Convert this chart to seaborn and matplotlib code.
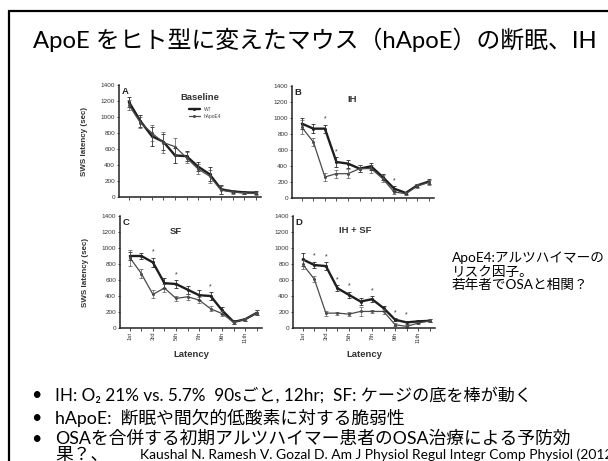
import numpy as np
import pandas as pd
import matplotlib
matplotlib.use("Agg")
import matplotlib.pyplot as plt
from matplotlib.lines import Line2D
import seaborn as sns

# ---------------- data ----------------
trials = list(range(1, 13))
trial_labels = ["1st", "2nd", "3rd", "4th", "5th", "6th", "7th", "8th", "9th", "10th", "11th", "12th"]

a_wt = [1190, 950, 760, 690, 520, 510, 380, 285, 96, 70, 58, 55]
a_ha = [1150, 930, 800, 680, 630, 490, 350, 260, 85, 62, 50, 45]
a_wt_err = [60, 80, 120, 100, 90, 60, 60, 90, 60, 20, 15, 15]
a_ha_err = [60, 70, 100, 130, 110, 70, 60, 80, 50, 20, 15, 15]

b_wt = [930, 867, 867, 450, 430, 367, 396, 263, 117, 63, 158, 205]
b_ha = [885, 700, 263, 304, 304, 367, 367, 242, 75, 54, 150, 195]
b_wt_err = [70, 60, 50, 60, 50, 40, 40, 40, 30, 15, 20, 30]
b_ha_err = [90, 50, 50, 50, 60, 40, 50, 40, 20, 15, 20, 30]

c_wt = [900, 900, 820, 560, 550, 480, 410, 400, 220, 75, 110, 190]
c_ha = [880, 680, 420, 500, 370, 390, 350, 240, 180, 70, 110, 190]
c_wt_err = [50, 40, 60, 60, 50, 50, 60, 50, 40, 20, 20, 30]
c_ha_err = [100, 60, 50, 50, 30, 40, 40, 30, 30, 20, 20, 30]

d_wt = [857, 787, 774, 497, 414, 331, 360, 248, 103, 70, 83, 90]
d_ha = [795, 609, 186, 186, 174, 207, 207, 207, 41, 20, 62, 90]
d_wt_err = [80, 40, 50, 40, 40, 40, 40, 30, 20, 20, 20, 20]
d_ha_err = [60, 40, 30, 20, 20, 60, 20, 30, 20, 15, 15, 20]

sig_b = [2, 3, 8]
sig_c = [2, 4, 7]
sig_d = [1, 2, 3, 4, 6, 8, 9]
sig_a = []

series_names = ["WT", "hApoE4"]
panel_letters = ["A", "B", "C", "D"]
panel_titles = ["Baseline", "IH", "SF", "IH + SF"]
y_ticks = [0, 200, 400, 600, 800, 1000, 1200, 1400]

title_text = "ApoE をヒト型に変えたマウス（hApoE）の断眠、IH"
bullets = [
    "IH: O₂ 21% vs. 5.7%  90sごと, 12hr;  SF: ケージの底を棒が動く",
    "hApoE:  断眠や間欠的低酸素に対する脆弱性",
    "OSAを合併する初期アルツハイマー患者のOSA治療による予防効",
]
bullet_cont = "果？、"
citation = "Kaushal N. Ramesh V. Gozal D. Am J Physiol Regul Integr Comp Physiol (2012"
side_note = ["ApoE4:アルツハイマーの", "リスク因子。", "若年者でOSAと相関？"]

# ---------------- style ----------------
sns.set_theme(style="ticks")
plt.rcParams['font.family'] = ['Noto Sans CJK JP', 'DejaVu Sans']
slide_fam = ["Lato", "Noto Sans CJK JP", "DejaVu Sans"]

W, H = 608, 461
fig = plt.figure(figsize=(W / 100, H / 100), dpi=100)
fig.patch.set_facecolor("white")

def fx(px):
    return px / W

def fy(py):
    return 1 - py / H

# slide frame
fig.add_artist(Line2D([fx(9), fx(9)], [0, fy(11)], color="black", lw=1.6))
fig.add_artist(Line2D([fx(9), 1.0], [fy(11), fy(11)], color="black", lw=1.6))

# title
fig.text(fx(33), fy(40), title_text, fontsize=17.2, va="center", ha="left", color="black",
         family=slide_fam)

# panels
panels = [
    (a_wt, a_ha, a_wt_err, a_ha_err, sig_a),
    (b_wt, b_ha, b_wt_err, b_ha_err, sig_b),
    (c_wt, c_ha, c_wt_err, c_ha_err, sig_c),
    (d_wt, d_ha, d_wt_err, d_ha_err, sig_d),
]
positions = [(119, 85), (292, 86), (120, 216), (293, 216)]
title_pos = [(0.57, 0.89), (0.42, 0.88), (0.39, 0.86), (0.44, 0.87)]
aw, ah = 142, 112
fig_font = "Liberation Sans"

for i, (wt, ha, wte, hae, sig) in enumerate(panels):
    lx, ty = positions[i]
    ax = fig.add_axes([fx(lx), fy(ty + ah), aw / W, ah / H])
    ax.set_facecolor("white")
    df = pd.DataFrame({
        "trial": trials * 2,
        "latency": list(wt) + list(ha),
        "group": [series_names[0]] * 12 + [series_names[1]] * 12,
    })
    sns.lineplot(data=df, x="trial", y="latency", hue="group", size="group",
                 sizes={"WT": 1.7, "hApoE4": 0.9},
                 palette={"WT": "#1e1e1e", "hApoE4": "#4a4a4a"},
                 marker="o", markersize=2.2, markeredgewidth=0, ax=ax,
                 legend=(i == 0))
    ax.errorbar(trials, wt, yerr=wte, fmt="none", ecolor="#2a2a2a", elinewidth=0.6, capsize=1.2, capthick=0.6)
    ax.errorbar(trials, ha, yerr=hae, fmt="none", ecolor="#555555", elinewidth=0.5, capsize=1.2, capthick=0.5)
    for s in sig:
        ax.text(trials[s], wt[s] + wte[s] + 25, "*", ha="center", va="bottom",
                fontsize=5, color="#333333", family=fig_font)
    ax.set_xlim(0.15, 12.45)
    ax.set_ylim(0, 1400)
    ax.set_yticks(y_ticks)
    ax.set_yticklabels([str(v) for v in y_ticks], fontsize=4.6, color="#444444", family=fig_font)
    ax.set_xticks(trials)
    if i >= 2:
        ax.set_xticklabels([lab if k % 2 == 0 else "" for k, lab in enumerate(trial_labels)],
                           rotation=90, fontsize=4.2, color="#444444", family=fig_font)
        ax.set_xlabel("Latency", fontsize=6.8, fontweight="bold", color="#333333", family=fig_font)
        ax.xaxis.set_label_coords(0.5, -0.2)
    else:
        ax.set_xticklabels([])
        ax.set_xlabel("")
    if i % 2 == 0:
        ax.set_ylabel("SWS latency (sec)", fontsize=5.8, fontweight="bold", color="#333333", family=fig_font)
        ax.yaxis.set_label_coords(-0.22, 0.5)
    else:
        ax.set_ylabel("")
    ax.tick_params(axis="both", length=1.8, width=0.6, pad=1, colors="#333333")
    for sp in ["top", "right"]:
        ax.spines[sp].set_visible(False)
    for sp in ["left", "bottom"]:
        ax.spines[sp].set_linewidth(1.1)
        ax.spines[sp].set_color("#222222")
    ax.text(0.02, 0.98, panel_letters[i], transform=ax.transAxes, fontsize=6.8,
            fontweight="bold", va="top", ha="left", color="#222222", family=fig_font)
    tx, tyy = title_pos[i]
    ax.text(tx, tyy, panel_titles[i], transform=ax.transAxes, fontsize=6.8,
            fontweight="bold", va="center", ha="center", color="#333333", family=fig_font)
    if i == 0:
        leg = ax.legend(loc="upper left", bbox_to_anchor=(0.48, 0.82), frameon=False,
                        fontsize=3.5, handlelength=2.2, borderaxespad=0, labelspacing=0.3,
                        title=None)
        for t in leg.get_texts():
            t.set_family(fig_font)
            t.set_color("#444444")

# side note
for k, line in enumerate(side_note):
    fig.text(fx(452), fy(258 + k * 13.5), line, fontsize=9.8, va="center", ha="left",
             color="black", family=slide_fam)

# bullets
bullet_y = [395, 418, 439]
bullet_sizes = [12.3, 12.8, 12.8]
for yb, txt, fs in zip(bullet_y, bullets, bullet_sizes):
    fig.text(fx(31), fy(yb), "•", fontsize=13, va="center", ha="left", color="black",
             family=slide_fam)
    fig.text(fx(55), fy(yb), txt, fontsize=fs, va="center", ha="left", color="black",
             family=slide_fam)
fig.text(fx(55), fy(454.5), bullet_cont, fontsize=12.8, va="center", ha="left", color="black",
         family=slide_fam)
fig.text(fx(140), fy(455), citation, fontsize=10.0, va="center", ha="left", color="black",
         family=slide_fam)

fig.savefig("out.png", dpi=100, facecolor="white")
